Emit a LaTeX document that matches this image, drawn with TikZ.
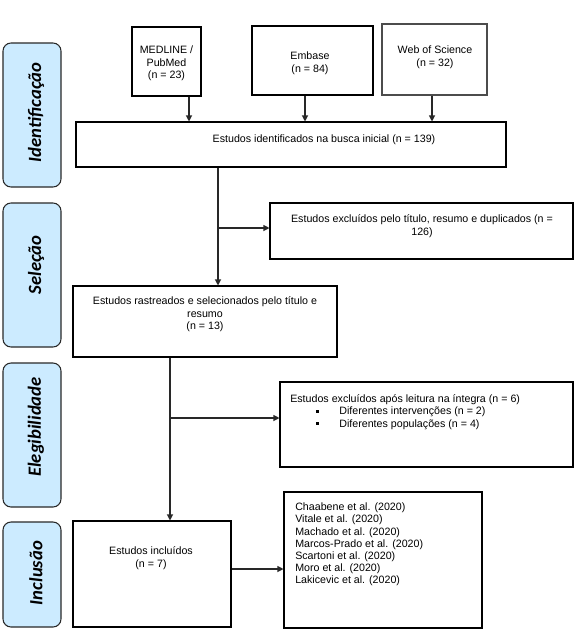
\documentclass[tikz,border=0pt]{standalone}
\usepackage{fontspec}
\setmainfont{Liberation Sans}
\newfontfamily\calfont{Carlito}
\usetikzlibrary{arrows.meta,calc}
\definecolor{phaseblue}{RGB}{204,235,255}
\definecolor{lineg}{RGB}{40,40,40}
\begin{document}
\begin{tikzpicture}[x=0.75pt,y=-0.75pt,
  box/.style={draw=black,line width=0.8pt,rectangle,inner sep=0pt},
  phase/.style={draw=lineg,fill=phaseblue,line width=0.8pt,rounded corners=6pt,inner sep=0pt,minimum width={58*0.75pt}},
  phasetext/.style={rotate=90,font=\calfont\bfseries\itshape\fontsize{14}{16}\selectfont,inner sep=0pt},
  txt/.style={font=\fontsize{8}{9.4}\selectfont,align=center,inner sep=0pt},
  txtl/.style={font=\fontsize{8}{9.15}\selectfont,align=left,inner sep=0pt,anchor=west},
  arr/.style={draw=lineg,line width=0.8pt,-{Triangle[width=4.5pt,length=4.5pt]}}]
\useasboundingbox (0,0) rectangle (577,632);
% phase labels
\node[phase,minimum height={144*0.75pt}] (pid) at (32,115) {};
\node[phase,minimum height={144*0.75pt}] (psel) at (32,275) {};
\node[phase,minimum height={144*0.75pt}] (pel) at (32,435) {};
\node[phase,minimum height={105*0.75pt}] (pin) at (32,574.5) {};
\node[phasetext] (tid) at (36,112.5) {Identificação};
\node[phasetext] (tsel) at (36,265) {Seleção};
\node[phasetext] (tel) at (36,427) {Elegibilidade};
\node[phasetext] (tin) at (36,573) {Inclusão};
% boxes
\node[box,minimum width={69*0.75pt},minimum height={69*0.75pt}] (med) at (166.5,61.5) {};
\node[box,minimum width={121*0.75pt},minimum height={69*0.75pt}] (emb) at (312.5,60.5) {};
\node[box,draw=black!70,minimum width={105*0.75pt},minimum height={71*0.75pt}] (wos) at (434.5,59.5) {};
\node[box,minimum width={430*0.75pt},minimum height={45*0.75pt}] (ident) at (291,144.5) {};
\node[box,minimum width={303*0.75pt},minimum height={56*0.75pt}] (exc1) at (421.5,231) {};
\node[box,minimum width={264*0.75pt},minimum height={71*0.75pt}] (rast) at (205,321.5) {};
\node[box,minimum width={293*0.75pt},minimum height={85*0.75pt}] (exc2) at (426.5,424.5) {};
\node[box,minimum width={158*0.75pt},minimum height={106*0.75pt}] (incl) at (152,574) {};
\node[box,minimum width={198*0.75pt},minimum height={136*0.75pt}] (list) at (383,560) {};
% texts
\node[txt] (tmed) at (166.5,63.5) {MEDLINE /\\PubMed\\(n = 23)};
\node[txt] (temb) at (310,63) {Embase\\(n = 84)};
\node[txt] (twos) at (435,57.5) {Web of Science\\(n = 32)};
\node[txt] (tident) at (324,140) {Estudos identificados na busca inicial (n = 139)};
\node[txt] (texc1) at (422,226) {Estudos excluídos pelo título, resumo e duplicados (n =\\126)};
\node[txt] (trast) at (205,314.5) {Estudos rastreados e selecionados pelo título e\\resumo\\(n = 13)};
\node[txtl] (texc2) at (290,412) {Estudos excluídos após leitura na íntegra (n = 6)\\
\hspace*{19.5pt}\rule[1.6pt]{2pt}{2pt}\hspace*{15.3pt}Diferentes intervenções (n = 2)\\
\hspace*{19.5pt}\rule[1.6pt]{2pt}{2pt}\hspace*{15.3pt}Diferentes populações (n = 4)};
\node[txt] (tincl) at (151,558) {Estudos incluídos\\(n = 7)};
\node[txtl] (tlist) at (295,544.5) {Chaabene et al. (2020)\\Vitale et al. (2020)\\Machado et al. (2020)\\Marcos-Prado et al. (2020)\\Scartoni et al. (2020)\\Moro et al. (2020)\\Lakicevic et al. (2020)};
% connectors
\coordinate (x1) at (189,0);
\coordinate (x2) at (305,0);
\coordinate (x3) at (432,0);
\coordinate (x4) at (218,0);
\coordinate (x5) at (170,0);
\coordinate (j1) at (218,228);
\coordinate (j2) at (170,418);
\coordinate (j3) at (0,569);
\draw[arr] (med.south -| x1) -- (ident.north -| x1);
\draw[arr] (emb.south -| x2) -- (ident.north -| x2);
\draw[arr] (wos.south -| x3) -- (ident.north -| x3);
\draw[arr] (ident.south -| x4) -- (rast.north -| x4);
\draw[arr] (j1) -- (j1 -| exc1.west);
\draw[arr] (rast.south -| x5) -- (incl.north -| x5);
\draw[arr] (j2) -- (j2 -| exc2.west);
\draw[arr] (j3 -| incl.east) -- (j3 -| list.west);
\end{tikzpicture}
\end{document}
